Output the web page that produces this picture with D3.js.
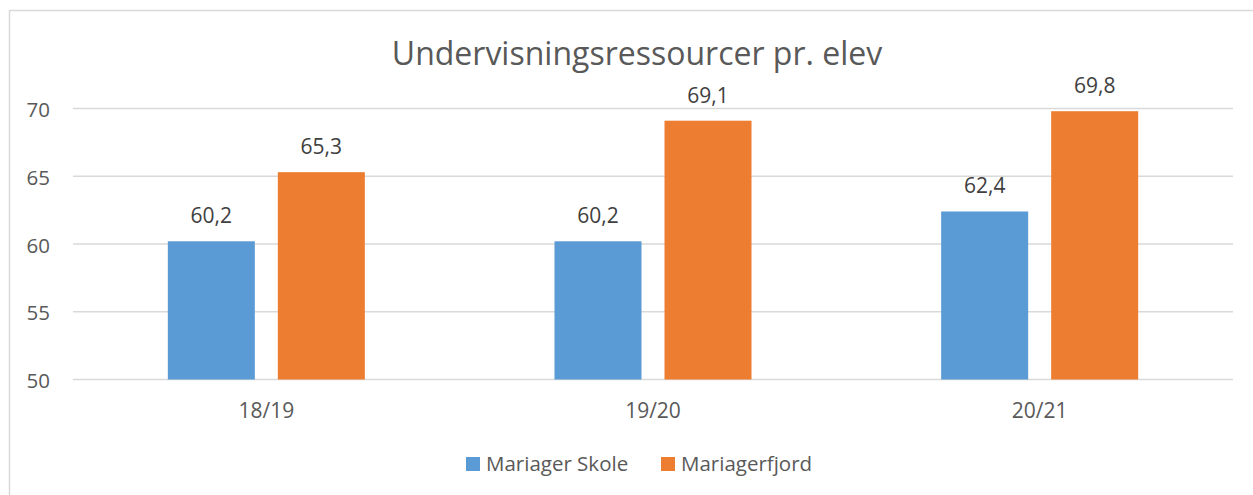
<!DOCTYPE html>
<html>
<head>
<meta charset="utf-8">
<script src="https://cdn.jsdelivr.net/npm/d3@7"></script>
<style>
  body { margin: 0; background: #fff; }
  svg text { font-family: "Open Sans", "Noto Sans", sans-serif; }
</style>
</head>
<body>
<div id="chart"></div>
<script>
// Chart data
const categories = ["18/19", "19/20", "20/21"];
const seriesNames = ["Mariager Skole", "Mariagerfjord"];
const skoleValues = [60.2, 60.2, 62.4];
const fjordValues = [65.3, 69.1, 69.8];
const yTicks = [50, 55, 60, 65, 70];
const colors = ["#5B9BD5", "#ED7D31"];

const width = 1253, height = 495;
const margin = { left: 73, right: 20, top: 108.5, bottom: 115.5 };

const svg = d3.select("#chart").append("svg")
    .attr("width", width)
    .attr("height", height);

// chart border
svg.append("rect")
    .attr("x", 9.5).attr("y", 10.5)
    .attr("width", width + 20).attr("height", height + 20)
    .style("fill", "none")
    .style("stroke", "#d9d9d9")
    .style("stroke-width", 1.5);

const x = d3.scaleBand()
    .domain(categories)
    .range([margin.left, 1233]);

const x1 = d3.scaleBand()
    .domain(seriesNames)
    .range([0, x.bandwidth()])
    .paddingInner(0.209)
    .paddingOuter(0.862);

const y = d3.scaleLinear()
    .domain([50, 70])
    .range([379.5, 108.5]);

// gridlines
svg.append("g")
    .selectAll("line")
    .data(yTicks)
    .enter()
    .append("line")
    .attr("x1", margin.left)
    .attr("x2", 1233)
    .attr("y1", d => y(d))
    .attr("y2", d => y(d))
    .style("stroke", "#d9d9d9")
    .style("stroke-width", 1.5);

// y tick labels
svg.append("g")
    .selectAll("text")
    .data(yTicks)
    .enter()
    .append("text")
    .attr("x", 50)
    .attr("y", d => y(d) + 8.5)
    .attr("text-anchor", "end")
    .style("font-size", "20.5px")
    .style("fill", "#595959")
    .text(d => d);

// x category labels
svg.append("g")
    .selectAll("text")
    .data(categories)
    .enter()
    .append("text")
    .attr("x", d => x(d) + x.bandwidth() / 2)
    .attr("y", 418)
    .attr("text-anchor", "middle")
    .style("font-size", "21px")
    .style("fill", "#595959")
    .text(d => d);

// bars
const rows = categories.map((c, i) => ({ cat: c, vals: [skoleValues[i], fjordValues[i]] }));

const groups = svg.append("g")
    .selectAll("g")
    .data(rows)
    .enter()
    .append("g")
    .attr("transform", d => "translate(" + x(d.cat) + ",0)");

const bars = groups.selectAll("g")
    .data(d => d.vals.map((v, j) => ({ name: seriesNames[j], v: v, j: j })))
    .enter()
    .append("g");

bars.append("rect")
    .attr("x", d => x1(d.name))
    .attr("width", x1.bandwidth())
    .attr("y", d => y(d.v))
    .attr("height", d => y(50) - y(d.v))
    .style("fill", d => colors[d.j]);

bars.append("text")
    .attr("x", d => x1(d.name) + x1.bandwidth() / 2)
    .attr("y", d => y(d.v) - 18)
    .attr("text-anchor", "middle")
    .style("font-size", "21px")
    .style("fill", "#404040")
    .text(d => d.v.toFixed(1).replace(".", ","));

// title
svg.append("text")
    .attr("x", 637)
    .attr("y", 65)
    .attr("text-anchor", "middle")
    .style("font-size", "32px")
    .style("fill", "#595959")
    .text("Undervisningsressourcer pr. elev");

// legend
const legendX = [466, 661];
const legend = svg.append("g")
    .selectAll("g")
    .data(seriesNames)
    .enter()
    .append("g")
    .attr("transform", (d, i) => "translate(" + legendX[i] + ",457)");

legend.append("rect")
    .attr("width", 14)
    .attr("height", 14)
    .style("fill", (d, i) => colors[i]);

legend.append("text")
    .attr("x", 20)
    .attr("y", 14)
    .style("font-size", "20.5px")
    .style("fill", "#595959")
    .text(d => d);
</script>
</body>
</html>
